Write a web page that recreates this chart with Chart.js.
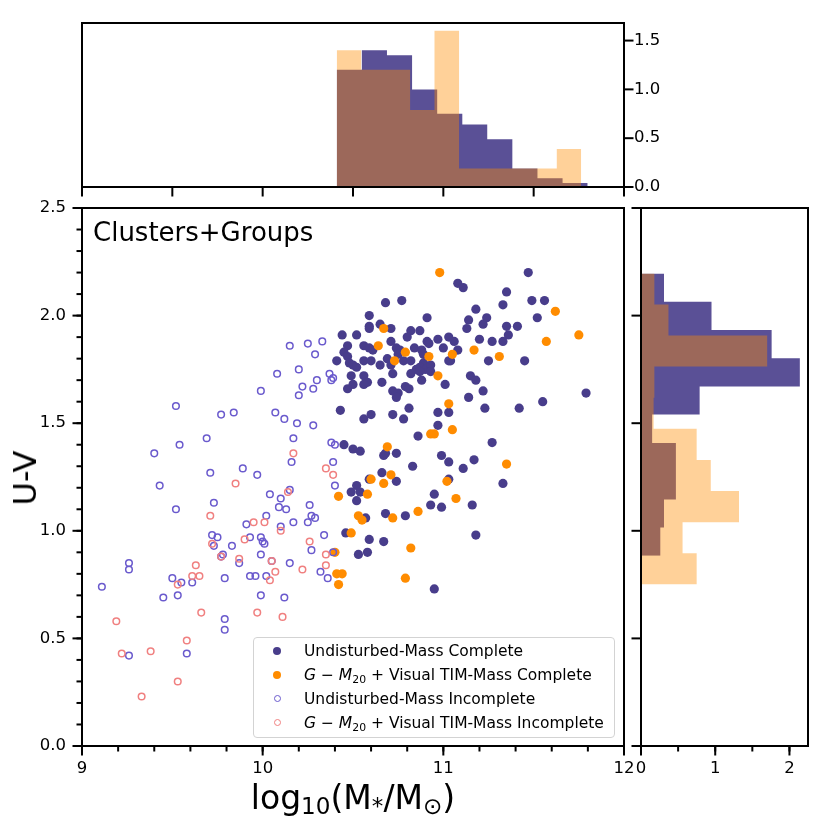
<!DOCTYPE html>
<html>
<head>
<meta charset="utf-8">
<title>Clusters+Groups: U-V vs stellar mass</title>
<style>
  body { margin: 0; background: #fff; }
  #wrap { position: relative; width: 830px; height: 830px; font-family: 'DejaVu Sans', sans-serif; color: #000; }
  canvas { position: absolute; left: 0; top: 0; }
  .txt { position: absolute; white-space: nowrap; line-height: 1; }
  sub { font-size: 0.7em; vertical-align: -0.25em; line-height: 0; }
  #legend { position: absolute; left: 253px; top: 637px; width: 362px; height: 101px; box-sizing: border-box;
            border: 1px solid #d3d3d3; border-radius: 4px; background: rgba(255,255,255,0.8); padding-top: 1px;
            font-size: 15.5px; }
  .row { position: relative; height: 24px; line-height: 24px; padding-left: 50px; white-space: nowrap; }
  .dot { position: absolute; left: 19px; top: 8px; width: 8px; height: 8px; border-radius: 50%; box-sizing: border-box; }
</style>
</head>
<body>
<div id="wrap">
  <canvas id="main" width="830" height="830"></canvas>
  <canvas id="top" width="830" height="830"></canvas>
  <canvas id="side" width="830" height="830"></canvas>
  <div class="txt" style="left:93px; top:219px; font-size:26px;">Clusters+Groups</div>
  <div class="txt" style="left:25px; top:478px; font-size:32px; transform:translate(-50%,-50%) rotate(-90deg);">U-V</div>
  <div class="txt" style="left:353px; top:797px; font-size:33px; transform:translate(-50%,-50%);">log<sub>10</sub>(M<sub>*</sub>/M<sub>⊙</sub>)</div>
  <div id="legend">
    <div class="row"><span class="dot" style="background:#483D8B"></span>Undisturbed-Mass Complete</div>
    <div class="row"><span class="dot" style="background:#FF8C00"></span><i>G</i> − <i>M</i><sub>20</sub> + Visual TIM-Mass Complete</div>
    <div class="row"><span class="dot" style="border:1.5px solid #6A5ACD; width:7px; height:7px; left:20px"></span>Undisturbed-Mass Incomplete</div>
    <div class="row"><span class="dot" style="border:1.5px solid #F08080; width:7px; height:7px; left:20px"></span><i>G</i> − <i>M</i><sub>20</sub> + Visual TIM-Mass Incomplete</div>
  </div>
</div>
<script src="https://cdn.jsdelivr.net/npm/chart.js@4"></script>
<script>
// log10(M*/Msun), U-V
const completeUndisturbed = [
  [11.47,2.20],[11.08,2.15],[11.11,2.13],[11.35,2.11],[10.68,2.06],[10.77,2.07],[11.49,2.07],[11.56,2.07],[11.33,2.05],[11.18,2.03],
  [10.59,2.00],[10.91,1.99],[11.14,1.98],[11.24,1.99],[11.52,1.99],[10.59,1.95],[10.59,1.94],[10.65,1.96],[10.71,1.94],[11.13,1.94],
  [11.22,1.96],[11.35,1.95],[11.36,1.91],[11.41,1.95],[10.82,1.93],[10.87,1.93],[10.80,1.90],[10.44,1.91],[10.52,1.91],[10.71,1.88],
  [11.20,1.89],[11.27,1.88],[11.33,1.88],
  [10.47,1.86],[10.45,1.83],[10.47,1.81],[10.56,1.86],[10.59,1.85],[10.61,1.84],[10.74,1.85],[10.76,1.84],[10.75,1.82],
  [10.84,1.85],[10.88,1.84],[10.89,1.82],[10.91,1.88],[10.92,1.87],[10.97,1.89],[11.03,1.90],[11.06,1.88],[11.00,1.85],[11.08,1.84],
  [11.03,1.79],[11.04,1.79],
  [10.41,1.79],[10.48,1.78],[10.50,1.77],[10.52,1.76],[10.56,1.79],[10.60,1.79],[10.65,1.77],[10.69,1.80],[10.71,1.77],[10.78,1.79],[10.82,1.79],
  [10.89,1.78],[10.87,1.76],[10.85,1.75],[10.90,1.75],[10.93,1.77],[10.93,1.74],[10.87,1.74],[10.88,1.70],[10.82,1.73],
  [10.72,1.73],[10.66,1.69],[10.72,1.65],[10.75,1.64],[10.74,1.62],[10.79,1.67],[10.81,1.66],[10.49,1.72],[10.50,1.68],[10.47,1.66],
  [10.56,1.72],[10.58,1.69],[10.56,1.68],
  [11.01,1.68],[11.15,1.72],[11.18,1.70],[11.22,1.65],[11.14,1.62],[11.23,1.57],[11.45,1.79],[11.25,1.79],[11.42,1.57],[11.55,1.60],[11.79,1.64],
  [10.43,1.56],[10.56,1.52],[10.60,1.54],[10.72,1.54],[10.78,1.52],[10.81,1.57],[10.97,1.55],[11.03,1.55],[10.97,1.49],[10.86,1.44],[11.27,1.41],
  [10.45,1.40],[10.50,1.38],[10.54,1.37],[10.67,1.35],[10.68,1.36],[10.74,1.36],[10.83,1.30],[10.66,1.27],[10.74,1.23],[10.99,1.35],
  [11.03,1.32],[11.11,1.29],[11.17,1.33],[11.33,1.22],[10.95,1.17],[11.03,1.24],[10.59,1.24],[10.52,1.21],[10.49,1.18],[10.54,1.18],
  [10.52,1.14],[10.93,1.12],[10.99,1.11],[11.16,1.12],[10.68,1.08],[10.79,1.07],[10.57,1.06],[10.46,0.99],[10.59,0.96],[10.67,0.95],
  [11.18,0.98],[10.53,0.89],[10.58,0.90],[10.95,0.73]
];
const completeTIM = [
  [10.98,2.20],[11.62,2.02],[11.75,1.91],[11.57,1.88],[10.67,1.94],[10.64,1.86],[10.79,1.83],[10.73,1.79],[10.92,1.81],[11.05,1.82],
  [11.17,1.84],[11.31,1.81],[10.97,1.72],[11.03,1.59],[11.05,1.47],[10.93,1.45],[10.95,1.45],[10.69,1.39],[11.35,1.31],[10.60,1.24],
  [10.71,1.26],[10.67,1.22],[11.02,1.23],[10.42,1.16],[10.58,1.17],[11.07,1.15],[10.53,1.07],[10.55,1.05],[10.72,1.06],[10.86,1.09],
  [10.49,0.99],[10.82,0.92],[10.40,0.90],[10.41,0.80],[10.44,0.80],[10.42,0.75],[10.79,0.78]
];
const incompleteUndisturbed = [
  [10.15,1.86],[10.25,1.87],[10.33,1.88],[10.29,1.82],[10.08,1.73],[10.20,1.75],[10.37,1.73],[10.38,1.70],[10.39,1.71],[10.30,1.70],
  [10.22,1.67],[10.28,1.66],[10.20,1.63],[9.99,1.65],[9.52,1.58],[9.77,1.54],[9.84,1.55],[10.07,1.55],[10.12,1.52],[10.19,1.50],
  [10.28,1.49],[9.69,1.43],[9.54,1.40],[9.40,1.36],[10.17,1.43],[10.38,1.41],[10.40,1.40],[10.16,1.32],[10.39,1.32],[9.71,1.27],
  [9.89,1.29],[9.97,1.26],[9.43,1.21],[10.40,1.21],[10.15,1.19],[10.04,1.17],[10.10,1.15],
  [9.73,1.13],[9.52,1.10],[10.09,1.11],[10.13,1.10],[10.26,1.12],[10.27,1.07],[10.29,1.06],[10.25,1.04],[10.02,1.07],[9.91,1.03],
  [10.10,1.02],[10.17,1.04],[9.72,0.98],[9.75,0.97],[9.73,0.93],[9.83,0.93],[9.93,0.97],[9.99,0.97],[10.00,0.95],[10.01,0.94],
  [9.78,0.89],[9.77,0.88],[9.87,0.85],[9.99,0.89],[10.05,0.86],[10.15,0.85],[10.34,0.98],[10.27,0.91],[10.39,0.90],[10.32,0.81],
  [10.36,0.78],[9.26,0.85],[9.26,0.82],[9.11,0.74],[9.50,0.78],[9.55,0.76],[9.61,0.76],[9.79,0.78],[9.93,0.79],[9.96,0.79],
  [10.02,0.79],[9.45,0.69],[9.53,0.70],[9.99,0.70],[10.12,0.69],[9.79,0.59],[9.79,0.54],[9.26,0.42],[9.58,0.43]
];
const incompleteTIM = [
  [10.17,1.36],[10.35,1.29],[10.39,1.26],[9.85,1.22],[10.14,1.18],[9.71,1.07],[9.95,1.04],[10.01,1.04],[10.10,1.00],[9.90,0.96],
  [9.72,0.94],[9.77,0.88],[10.26,0.95],[10.35,0.89],[10.35,0.84],[10.22,0.82],[9.87,0.87],[10.05,0.86],[10.07,0.81],[10.04,0.77],
  [9.63,0.84],[9.61,0.79],[9.65,0.79],[9.53,0.75],[9.66,0.62],[9.97,0.62],[10.11,0.60],[9.19,0.58],[9.22,0.43],[9.38,0.44],
  [9.58,0.49],[9.53,0.30],[9.33,0.23]
];

// normalised histograms (bin edges + densities)
const massEdgesUnd = [10.410,10.549,10.688,10.827,10.966,11.105,11.243,11.382,11.521,11.660,11.799];
const massDensUnd = [1.20,1.40,1.35,1.00,0.75,0.64,0.49,0.19,0.09,0.04];
const massEdgesTIM = [10.410,10.545,10.681,10.816,10.951,11.087,11.222,11.357,11.492,11.628,11.763];
const massDensTIM = [1.40,1.20,1.20,0.79,1.60,0.19,0.19,0.19,0.19,0.39];
const colourEdgesUnd = [0.884,1.015,1.146,1.277,1.408,1.540,1.671,1.802,1.933,2.064,2.196];
const colourDensUnd = [0.26,0.31,0.47,0.47,0.15,0.79,2.14,1.76,0.95,0.31];
const colourEdgesTIM = [0.751,0.896,1.040,1.185,1.329,1.474,1.618,1.763,1.907,2.052,2.196];
const colourDensTIM = [0.75,0.56,1.32,0.94,0.75,0.17,0.18,1.70,0.37,0.18];

Chart.defaults.font.family = 'DejaVu Sans';
Chart.defaults.font.size = 16.5;
Chart.defaults.color = '#000';

const toPts = arr => arr.map(p => ({x: p[0], y: p[1]}));

function barSteps(edges, dens) {
  const pts = dens.map((h, i) => ({x: edges[i], y: h}));
  pts.push({x: edges[edges.length - 1], y: 0});
  return pts;
}
function sideSteps(edges, dens) {
  const pts = [{x: 0, y: edges[0]}];
  dens.forEach((h, i) => pts.push({x: h, y: edges[i]}));
  pts.push({x: 0, y: edges[edges.length - 1]});
  return pts;
}

// box around the axes + matplotlib style outward ticks
const axisFrame = {
  id: 'axisFrame',
  afterDraw(chart, args, opts) {
    const ctx = chart.ctx, a = chart.chartArea;
    ctx.save();
    ctx.strokeStyle = '#000';
    ctx.lineWidth = 2;
    ctx.strokeRect(a.left, a.top, a.right - a.left, a.bottom - a.top);
    (opts.marks || []).forEach(m => {
      const s = chart.scales[m.scale];
      [[m.minor, 5.5], [m.major, 9.5]].forEach(([step, len]) => {
        if (!step) return;
        const n0 = Math.ceil(s.min / step - 1e-6), n1 = Math.floor(s.max / step + 1e-6);
        for (let n = n0; n <= n1; n++) {
          const p = s.getPixelForValue(n * step);
          ctx.beginPath();
          if (m.side === 'bottom') { ctx.moveTo(p, a.bottom); ctx.lineTo(p, a.bottom + len); }
          else if (m.side === 'left') { ctx.moveTo(a.left, p); ctx.lineTo(a.left - len, p); }
          else { ctx.moveTo(a.right, p); ctx.lineTo(a.right + len, p); }
          ctx.stroke();
        }
      });
    });
    ctx.restore();
  }
};
Chart.register(axisFrame);

const oneDec = v => Number(v).toFixed(1);
// fixed-size axis boxes so the plot areas line up across the three charts
function axis(size, extra) {
  return Object.assign({
    type: 'linear',
    afterFit: s => { if (s.isHorizontal()) s.height = size; else s.width = size; },
    grid: {display: false, drawTicks: false}, border: {display: false}
  }, extra);
}
const base = {responsive: false, animation: false, events: []};

new Chart(document.getElementById('main'), {
  type: 'scatter',
  data: {
    datasets: [
      {label: 'Undisturbed-Mass Complete', data: toPts(completeUndisturbed), backgroundColor: '#483D8B',
       pointRadius: 4.6, borderWidth: 0, order: 4},
      {label: 'G - M20 + Visual TIM-Mass Complete', data: toPts(completeTIM), backgroundColor: '#FF8C00',
       pointRadius: 4.6, borderWidth: 0, order: 3},
      {label: 'Undisturbed-Mass Incomplete', data: toPts(incompleteUndisturbed), backgroundColor: 'rgba(0,0,0,0)',
       borderColor: '#6A5ACD', pointRadius: 3.3, borderWidth: 1.5, order: 2},
      {label: 'G - M20 + Visual TIM-Mass Incomplete', data: toPts(incompleteTIM), backgroundColor: 'rgba(0,0,0,0)',
       borderColor: '#F08080', pointRadius: 3.3, borderWidth: 1.5, order: 1}
    ]
  },
  options: Object.assign({}, base, {
    layout: {padding: {left: 12, top: 208, right: 206, bottom: 34}},
    plugins: {legend: {display: false}, tooltip: {enabled: false},
      axisFrame: {marks: [{scale: 'x', side: 'bottom', major: 1, minor: 0.2}, {scale: 'y', side: 'left', major: 0.5, minor: 0.1}]}},
    scales: {
      x: axis(50, {min: 9, max: 12, ticks: {stepSize: 1, padding: 13, includeBounds: false}}),
      y: axis(70, {min: 0, max: 2.5, ticks: {stepSize: 0.5, padding: 16, includeBounds: false, callback: oneDec}})
    }
  })
});

new Chart(document.getElementById('top'), {
  type: 'line',
  data: {
    datasets: [
      {label: 'Undisturbed', data: barSteps(massEdgesUnd, massDensUnd), stepped: true, fill: 'origin',
       backgroundColor: 'rgba(72,61,139,0.9)', borderColor: 'rgba(0,0,0,0)', pointRadius: 0, order: 2},
      {label: 'TIM', data: barSteps(massEdgesTIM, massDensTIM), stepped: true, fill: 'origin',
       backgroundColor: 'rgba(255,140,0,0.4)', borderColor: 'rgba(0,0,0,0)', pointRadius: 0, order: 1}
    ]
  },
  options: Object.assign({}, base, {
    layout: {padding: {left: 82, top: 23, right: 146, bottom: 643}},
    plugins: {legend: {display: false}, tooltip: {enabled: false},
      axisFrame: {marks: [{scale: 'x', side: 'bottom', major: 0.5}, {scale: 'y', side: 'right', major: 0.5}]}},
    scales: {
      x: axis(0, {min: 9, max: 12, ticks: {display: false}}),
      y: axis(60, {position: 'right', min: 0, max: 1.68, ticks: {stepSize: 0.5, padding: 10, includeBounds: false, callback: oneDec}})
    }
  })
});

new Chart(document.getElementById('side'), {
  type: 'line',
  data: {
    datasets: [
      {label: 'Undisturbed', data: sideSteps(colourEdgesUnd, colourDensUnd), stepped: 'after', fill: 'origin',
       backgroundColor: 'rgba(72,61,139,0.9)', borderColor: 'rgba(0,0,0,0)', pointRadius: 0, order: 2},
      {label: 'TIM', data: sideSteps(colourEdgesTIM, colourDensTIM), stepped: 'after', fill: 'origin',
       backgroundColor: 'rgba(255,140,0,0.4)', borderColor: 'rgba(0,0,0,0)', pointRadius: 0, order: 1}
    ]
  },
  options: Object.assign({}, base, {
    indexAxis: 'y',
    layout: {padding: {left: 641, top: 208, right: 22, bottom: 34}},
    plugins: {legend: {display: false}, tooltip: {enabled: false},
      axisFrame: {marks: [{scale: 'x', side: 'bottom', major: 1, minor: 0.5}, {scale: 'y', side: 'left', major: 0.5}]}},
    scales: {
      x: axis(50, {min: 0, max: 2.25, ticks: {stepSize: 1, padding: 13, includeBounds: false}}),
      y: axis(0, {min: 0, max: 2.5, ticks: {display: false}})
    }
  })
});
</script>
</body>
</html>
